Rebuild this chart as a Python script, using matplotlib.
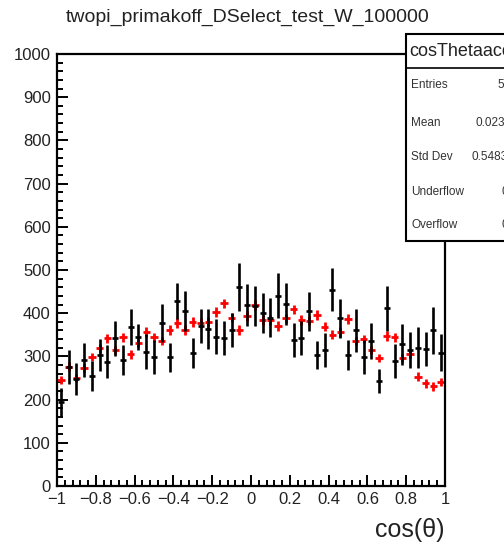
import numpy as np
import matplotlib
matplotlib.use('Agg')
import matplotlib.pyplot as plt
from matplotlib.patches import Rectangle
from matplotlib.lines import Line2D
from matplotlib.ticker import MultipleLocator

plt.rcParams['font.family'] = ['Liberation Sans', 'DejaVu Sans']

# 50 bins in cos(theta) from -1 to 1
bin_edges = np.linspace(-1, 1, 51)
bin_centers = 0.5 * (bin_edges[:-1] + bin_edges[1:])

# black histogram (data)
data_counts = [195, 275, 248, 292, 254, 303, 288, 342, 292, 368,
               345, 311, 299, 378, 298, 428, 405, 308, 370, 363,
               346, 342, 361, 460, 419, 417, 400, 390, 440, 421,
               338, 342, 404, 303, 315, 454, 388, 303, 360, 299,
               336, 243, 411, 289, 328, 315, 320, 317, 360, 309]
data_errors = [33, 40, 37, 39, 35, 37, 39, 40, 34, 42,
               31, 40, 39, 44, 34, 42, 46, 35, 39, 46,
               40, 39, 39, 56, 48, 47, 46, 46, 52, 48,
               40, 39, 46, 33, 39, 50, 46, 35, 49, 39,
               42, 27, 52, 39, 48, 42, 48, 40, 54, 42]

# red histogram (MC)
mc_counts = [245, 276, 250, 273, 299, 319, 342, 315, 344, 305,
             331, 357, 344, 336, 361, 377, 361, 380, 378, 380,
             403, 423, 390, 361, 393, 419, 384, 384, 370, 388,
             409, 384, 383, 396, 369, 350, 357, 387, 336, 340,
             315, 296, 347, 344, 296, 306, 253, 238, 231, 241]
mc_errors = [10, 10, 10, 10, 10, 10, 11, 10, 11, 10,
             10, 11, 11, 10, 11, 11, 11, 11, 11, 11,
             11, 11, 11, 11, 11, 11, 11, 11, 11, 11,
             11, 11, 11, 11, 11, 10, 11, 11, 10, 10,
             10, 10, 11, 11, 10, 10, 10, 10, 10, 10]

title = 'twopi_primakoff_DSelect_test_W_100000'
stat_labels = ['Entries', 'Mean', 'Std Dev', 'Underflow', 'Overflow']
stat_values = ['50000', '0.02318', '0.5483', '0', '0']

W, H = 504, 548
fig = plt.figure(figsize=(W / 100, H / 100), dpi=100)


def fx(x):
    return x / W


def fy(y):
    return 1 - y / H


ax = fig.add_axes([fx(57), fy(486), fx(445) - fx(57), fy(54) - fy(486)])

ax.errorbar(bin_centers, mc_counts, yerr=mc_errors, xerr=0.019, fmt='none',
            ecolor='#ff0000', elinewidth=2.0, capsize=0, zorder=2)
ax.errorbar(bin_centers, data_counts, yerr=data_errors, fmt='_', color='black',
            ecolor='black', elinewidth=1.9, markersize=5, mew=1.9, capsize=0, zorder=3)

ax.set_xlim(-1, 1)
ax.set_ylim(0, 1000)
ax.xaxis.set_major_locator(MultipleLocator(0.2))
ax.xaxis.set_minor_locator(MultipleLocator(0.04))
ax.yaxis.set_major_locator(MultipleLocator(100))
ax.yaxis.set_minor_locator(MultipleLocator(20))
ax.set_xticks(np.linspace(-1, 1, 11))
ax.set_xticklabels(['\u22121', '\u22120.8', '\u22120.6', '\u22120.4', '\u22120.2',
                    '0', '0.2', '0.4', '0.6', '0.8', '1'])
ax.tick_params(which='both', direction='in', top=False, right=False,
               labelsize=12, width=1.4, colors='black', labelcolor='#222222')
ax.tick_params(which='major', length=8)
ax.tick_params(which='minor', length=4)
ax.tick_params(axis='y', pad=4.5)
ax.tick_params(axis='x', pad=4)
for s in ax.spines.values():
    s.set_linewidth(1.6)

fig.text(fx(445), fy(530), 'cos(\u03b8)', ha='right', va='center', fontsize=18,
         color='#222222')
fig.text(fx(248), fy(17), title, ha='center', va='center', fontsize=14,
         color='#222222')

# stats box
box = Rectangle((fx(406), fy(241)), fx(200), fy(34) - fy(241),
                transform=fig.transFigure, facecolor='white', edgecolor='black',
                linewidth=1.5, zorder=10)
fig.add_artist(box)
fig.add_artist(Line2D([fx(406), 1.1], [fy(68), fy(68)], transform=fig.transFigure,
                      color='black', linewidth=1.2, zorder=11))
fig.text(fx(409), fy(51), 'cosThetaaccept', ha='left', va='center',
         fontsize=13, color='#222222', zorder=12)
label_y = [85, 123, 157, 192, 225]
value_x = [497, 476, 472, 502, 502]
for lab, val, yy, xx in zip(stat_labels, stat_values, label_y, value_x):
    fig.text(fx(411), fy(yy), lab, ha='left', va='center', fontsize=8.5,
             color='#333333', zorder=12)
    fig.text(fx(xx), fy(yy), val, ha='left', va='center', fontsize=8.5,
             color='#333333', zorder=12)

fig.savefig('out.png', dpi=100)
